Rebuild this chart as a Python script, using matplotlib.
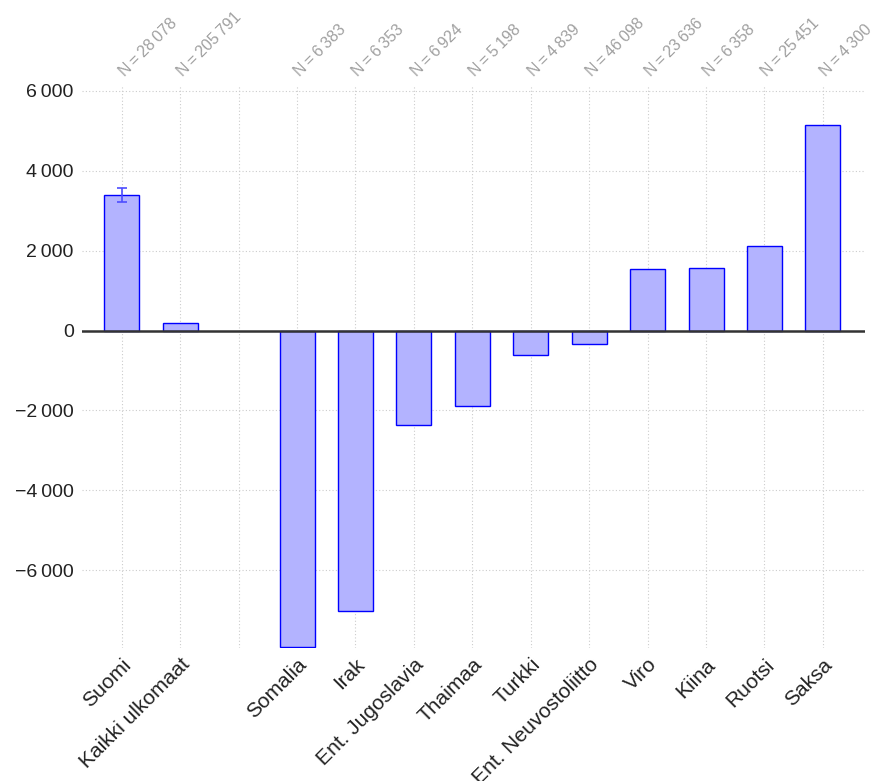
import matplotlib
matplotlib.use("Agg")
import matplotlib.pyplot as plt
import matplotlib.ticker as mticker
import matplotlib.transforms as mtransforms
import numpy as np

plt.rcParams['font.family'] = ['Liberation Sans', 'DejaVu Sans']

# slot 2 is left empty in the chart
positions = [0, 1, 3, 4, 5, 6, 7, 8, 9, 10, 11, 12]
countries = ['Suomi', 'Kaikki ulkomaat', 'Somalia', 'Irak', 'Ent. Jugoslavia', 'Thaimaa',
             'Turkki', 'Ent. Neuvostoliitto', 'Viro', 'Kiina', 'Ruotsi', 'Saksa']
values = [3390, 200, -7925, -7025, -2375, -1900, -600, -325, 1550, 1575, 2125, 5150]
n_labels = ['N\u2009=\u200928\u2009078', 'N\u2009=\u2009205\u2009791', 'N\u2009=\u20096\u2009383',
            'N\u2009=\u20096\u2009353', 'N\u2009=\u20096\u2009924', 'N\u2009=\u20095\u2009198',
            'N\u2009=\u20094\u2009839', 'N\u2009=\u200946\u2009098', 'N\u2009=\u200923\u2009636',
            'N\u2009=\u20096\u2009358', 'N\u2009=\u200925\u2009451', 'N\u2009=\u20094\u2009300']
# error bar only on Suomi
err_low, err_high = 3230, 3560

fig = plt.figure(figsize=(8.73, 7.81), dpi=100)
ax = fig.add_axes([82 / 873, 1 - 648 / 781, (865 - 82) / 873, (648 - 86) / 781])

ax.bar(positions, values, width=0.6, color='#b3b3ff', edgecolor='#0000ff', linewidth=1, zorder=3)
ax.errorbar([positions[0]], [values[0]],
            yerr=[[values[0] - err_low], [err_high - values[0]]],
            fmt='none', ecolor='#4d4dff', elinewidth=1.2, capsize=3.5, capthick=1.2, zorder=4)
ax.axhline(0, color='#333333', linewidth=1.8, zorder=5)

ax.set_xlim(-0.68, 12.72)
ax.set_ylim(-7950, 6125)
ax.set_xticks(range(13))
ax.set_xticklabels(countries[:2] + [''] + countries[2:], rotation=45, ha='right',
                   rotation_mode='anchor', fontsize=15, color='#222222')
ax.set_yticks([-6000, -4000, -2000, 0, 2000, 4000, 6000])


def fmt(v, pos):
    s = f'{abs(int(v)):,}'.replace(',', '\u2009')
    return ('\u2212' if v < 0 else '') + s


ax.yaxis.set_major_formatter(mticker.FuncFormatter(fmt))
ax.tick_params(axis='y', labelsize=14, colors='#222222', length=0, pad=6)
ax.tick_params(axis='x', length=0, pad=5)
ax.grid(True, linestyle=(0, (1, 2)), color='#cccccc', linewidth=0.8, zorder=0)
for s in ax.spines.values():
    s.set_visible(False)

trans = mtransforms.blended_transform_factory(ax.transData, ax.transAxes)
offset = mtransforms.ScaledTranslation(3 / 100, 9 / 100, fig.dpi_scale_trans)
for p, lab in zip(positions, n_labels):
    ax.text(p, 1.0, lab, transform=trans + offset, rotation=45, rotation_mode='anchor',
            ha='left', va='baseline', fontsize=11.5, color='#a0a0a0')

fig.savefig('out.png', dpi=100)
